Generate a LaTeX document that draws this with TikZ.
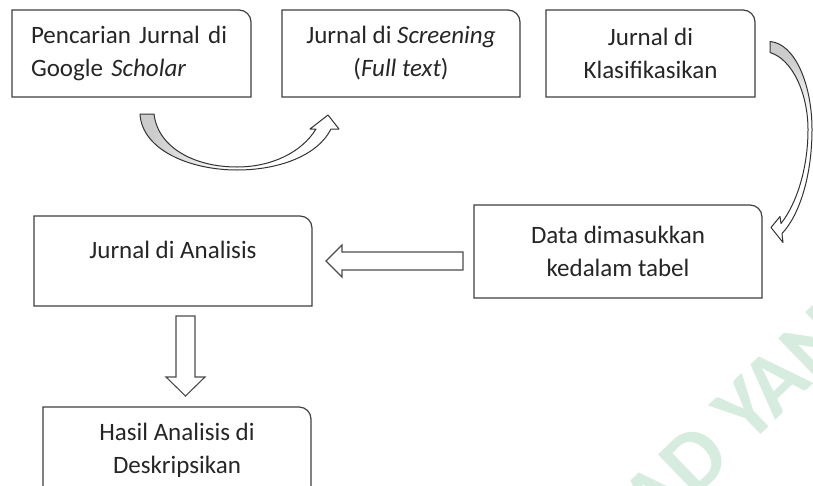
\documentclass[tikz,border=0pt]{standalone}
\usepackage{fontspec}
\setmainfont{Carlito}
\usetikzlibrary{positioning,calc}
\definecolor{wmgreen}{HTML}{D5ECDF}
\pgfdeclarehorizontalshading{fadeleft}{100bp}{color(0bp)=(gray!40); color(28bp)=(gray!40); color(48bp)=(white); color(100bp)=(white)}
\pgfdeclareverticalshading{fadetop}{100bp}{color(0bp)=(white); color(56bp)=(white); color(71bp)=(gray!40); color(100bp)=(gray!40)}

\begin{document}
\begin{tikzpicture}[x=1pt, y=-1pt, node distance=31pt]

    \tikzstyle{flowbox} = [rectangle, minimum height=87pt, inner sep=0pt, outer sep=0pt, align=center, text=black!85, font=\fontsize{25}{33}\selectfont]
    \tikzstyle{boxline} = [draw=black!75, line width=1.2pt]
    \tikzstyle{hollow} = [draw=black!70, line width=1.1pt, fill=white]
    \tikzstyle{curvearrow} = [draw=black!80, line width=1pt, line join=round]

    \useasboundingbox[fill=white] (0,0) rectangle (813,485);
    \clip (0,0) rectangle (813,485);

    % watermark
    \node [text=wmgreen, rotate=44, font=\bfseries\fontsize{88}{88}\selectfont] (wmark) at (736,419) {AD YAN};

    \node [flowbox, minimum width=239pt, text width=201pt, align=left] (cari) at (131.5,53.5) {Pencarian Jurnal di\\Google \textit{Scholar}};
    \node [flowbox, minimum width=238pt, right=31pt of cari] (scre) {Jurnal di \textit{Screening}\\(\textit{Full text})};
    \node [flowbox, minimum width=209pt, right=26pt of scre] (klas) {Jurnal di\\Klasifikasikan};
    \node [flowbox, minimum width=288pt, minimum height=93pt] (data) at (618,251.5) {Data dimasukkan\\kedalam tabel};
    \node [flowbox, minimum width=278pt, minimum height=90pt, text height=18pt, text depth=24pt] (anal) at (173,261) {Jurnal di Analisis};
    \node [flowbox, minimum width=268pt, below=101pt of anal, xshift=4pt] (hasi) {Hasil Analisis di\\Deskripsikan};

    % outlines, only the top right corner is round
    \foreach \b in {cari,scre,klas,data,anal,hasi}
        \draw [boxline] (\b.south west) -- (\b.north west) -- ($(\b.north east)+(-12,0)$)
            arc [start angle=90, end angle=0, radius=12pt] -- (\b.south east) -- cycle;

    % curved arrows
    \coordinate (bendA) at ($(cari.south)+(8.5,17)$);
    \begin{scope}[shift={(bendA)}]
        \draw [curvearrow, shade, shading=fadeleft] (0,0) .. controls (2,36) and (50,56) .. (97,56)
            .. controls (140,56) and (178,41) .. (191,15) -- (199,15) -- (188,1) -- (170,15) -- (176,15)
            .. controls (162,38) and (132,53) .. (97,53) .. controls (55,53) and (18,34) .. (14,0) -- cycle;
    \end{scope}

    \coordinate (bendB) at ($(klas.east)+(15,-12)$);
    \begin{scope}[shift={(bendB)}]
        \draw [curvearrow, shade, shading=fadetop] (0,0) .. controls (25,2) and (42,43) .. (42,88)
            .. controls (42,133) and (30,173) .. (12,192) -- (13,201) -- (1,186) -- (10,175) -- (11,182)
            .. controls (26,163) and (38,128) .. (38,88) .. controls (38,53) and (23,18) .. (0,11) -- cycle;
    \end{scope}

    % block arrows
    \coordinate (lS) at ($(data.west |- anal.east)+(-11,0)$);
    \coordinate (lT) at ($(anal.east)+(14,0)$);
    \draw [hollow] ($(lS)+(0,-9)$) -- ($(lT)+(16,-9)$) -- ($(lT)+(16,-16)$) -- (lT)
        -- ($(lT)+(16,16)$) -- ($(lT)+(16,9)$) -- ($(lS)+(0,9)$) -- cycle;

    \coordinate (dS) at ($(anal.south)+(12.5,10)$);
    \coordinate (dT) at ($(dS |- hasi.north)+(0,-11)$);
    \draw [hollow] ($(dS)+(-9.5,0)$) -- ($(dT)+(-9.5,-19)$) -- ($(dT)+(-19.5,-19)$) -- (dT)
        -- ($(dT)+(19.5,-19)$) -- ($(dT)+(9.5,-19)$) -- ($(dS)+(9.5,0)$) -- cycle;

\end{tikzpicture}
\end{document}
